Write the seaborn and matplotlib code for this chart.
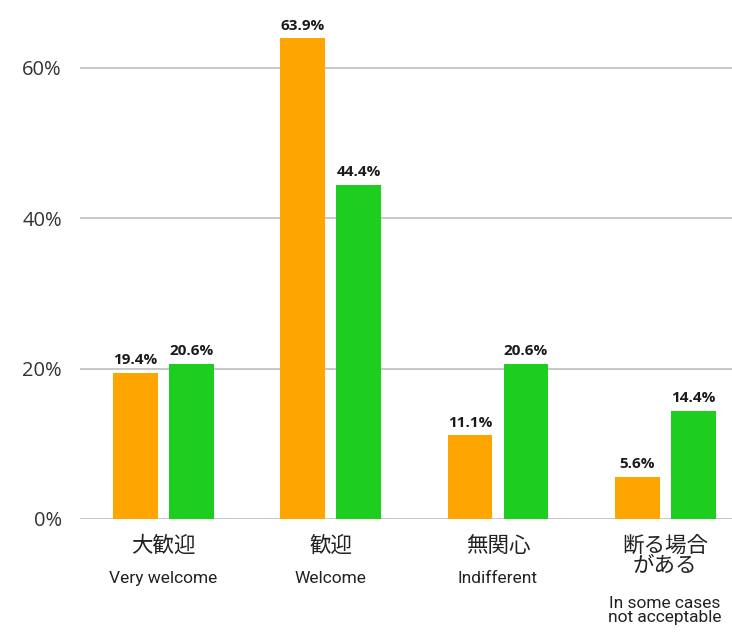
import matplotlib
matplotlib.use("Agg")
import matplotlib.pyplot as plt
import matplotlib.transforms as mtransforms
import seaborn as sns
import pandas as pd

# Survey responses (percent) for two respondent groups
categories_ja = ["大歓迎", "歓迎", "無関心", "断る場合\nがある"]
categories_en = ["Very welcome", "Welcome", "Indifferent", "In some cases\nnot acceptable"]
group_names = ["Group A", "Group B"]
group_a = [19.4, 63.9, 11.1, 5.6]
group_b = [20.6, 44.4, 20.6, 14.4]
y_ticks = [0, 20, 40, 60]
bar_colors = ["#FFA500", "#1ECE1E"]

df = pd.DataFrame({
    "category": categories_ja * 2,
    "group": [group_names[0]] * 4 + [group_names[1]] * 4,
    "value": group_a + group_b,
})

sns.set_theme(style="white")
plt.rcParams["font.family"] = ["Open Sans", "Noto Sans CJK JP", "DejaVu Sans"]

fig = plt.figure(figsize=(7.32, 6.32), dpi=100)
ax = fig.add_axes([80 / 732, (632 - 519) / 632, (732 - 80) / 732, (519 - 30) / 632])

sns.barplot(
    data=df, x="category", y="value", hue="group",
    order=categories_ja, hue_order=group_names,
    palette=bar_colors, width=0.67, gap=0.2,
    saturation=1, legend=False, ax=ax, zorder=3,
    edgecolor="none", linewidth=0,
)

for container in ax.containers:
    ax.bar_label(container, fmt="{:.1f}%", padding=4, fontsize=11,
                 fontweight="bold", color="#1a1a1a",
                 family=["Open Sans", "DejaVu Sans"])

ax.set_xlim(-0.5, 3.4)
ax.set_ylim(0, 65)
ax.set_yticks(y_ticks)
ax.set_yticklabels([f"{t}%" for t in y_ticks], fontsize=14.5, color="#333333")
ax.tick_params(axis="y", length=0, pad=13)
ax.yaxis.grid(True, color="#BDBDBD", linewidth=1.2, zorder=0)
ax.set_axisbelow(True)
for s in ax.spines.values():
    s.set_visible(False)

ax.set_xticks(range(len(categories_ja)))
ax.set_xticklabels([])
ax.tick_params(axis="x", length=0)
ax.set_xlabel("")
ax.set_ylabel("")

trans = mtransforms.blended_transform_factory(ax.transData, fig.transFigure)
for i, (ja, en) in enumerate(zip(categories_ja, categories_en)):
    ax.text(i, 1 - 535 / 632, ja, transform=trans, ha="center", va="top",
            fontsize=15.5, color="#222222", linespacing=0.85,
            family=["Noto Sans CJK JP", "DejaVu Sans"])
    y_en = 571 if "\n" not in ja else 596
    ax.text(i, 1 - y_en / 632, en, transform=trans, ha="center", va="top",
            fontsize=12.5, color="#222222", linespacing=0.95,
            family=["Roboto", "DejaVu Sans"])

fig.savefig("out.png", dpi=100)
